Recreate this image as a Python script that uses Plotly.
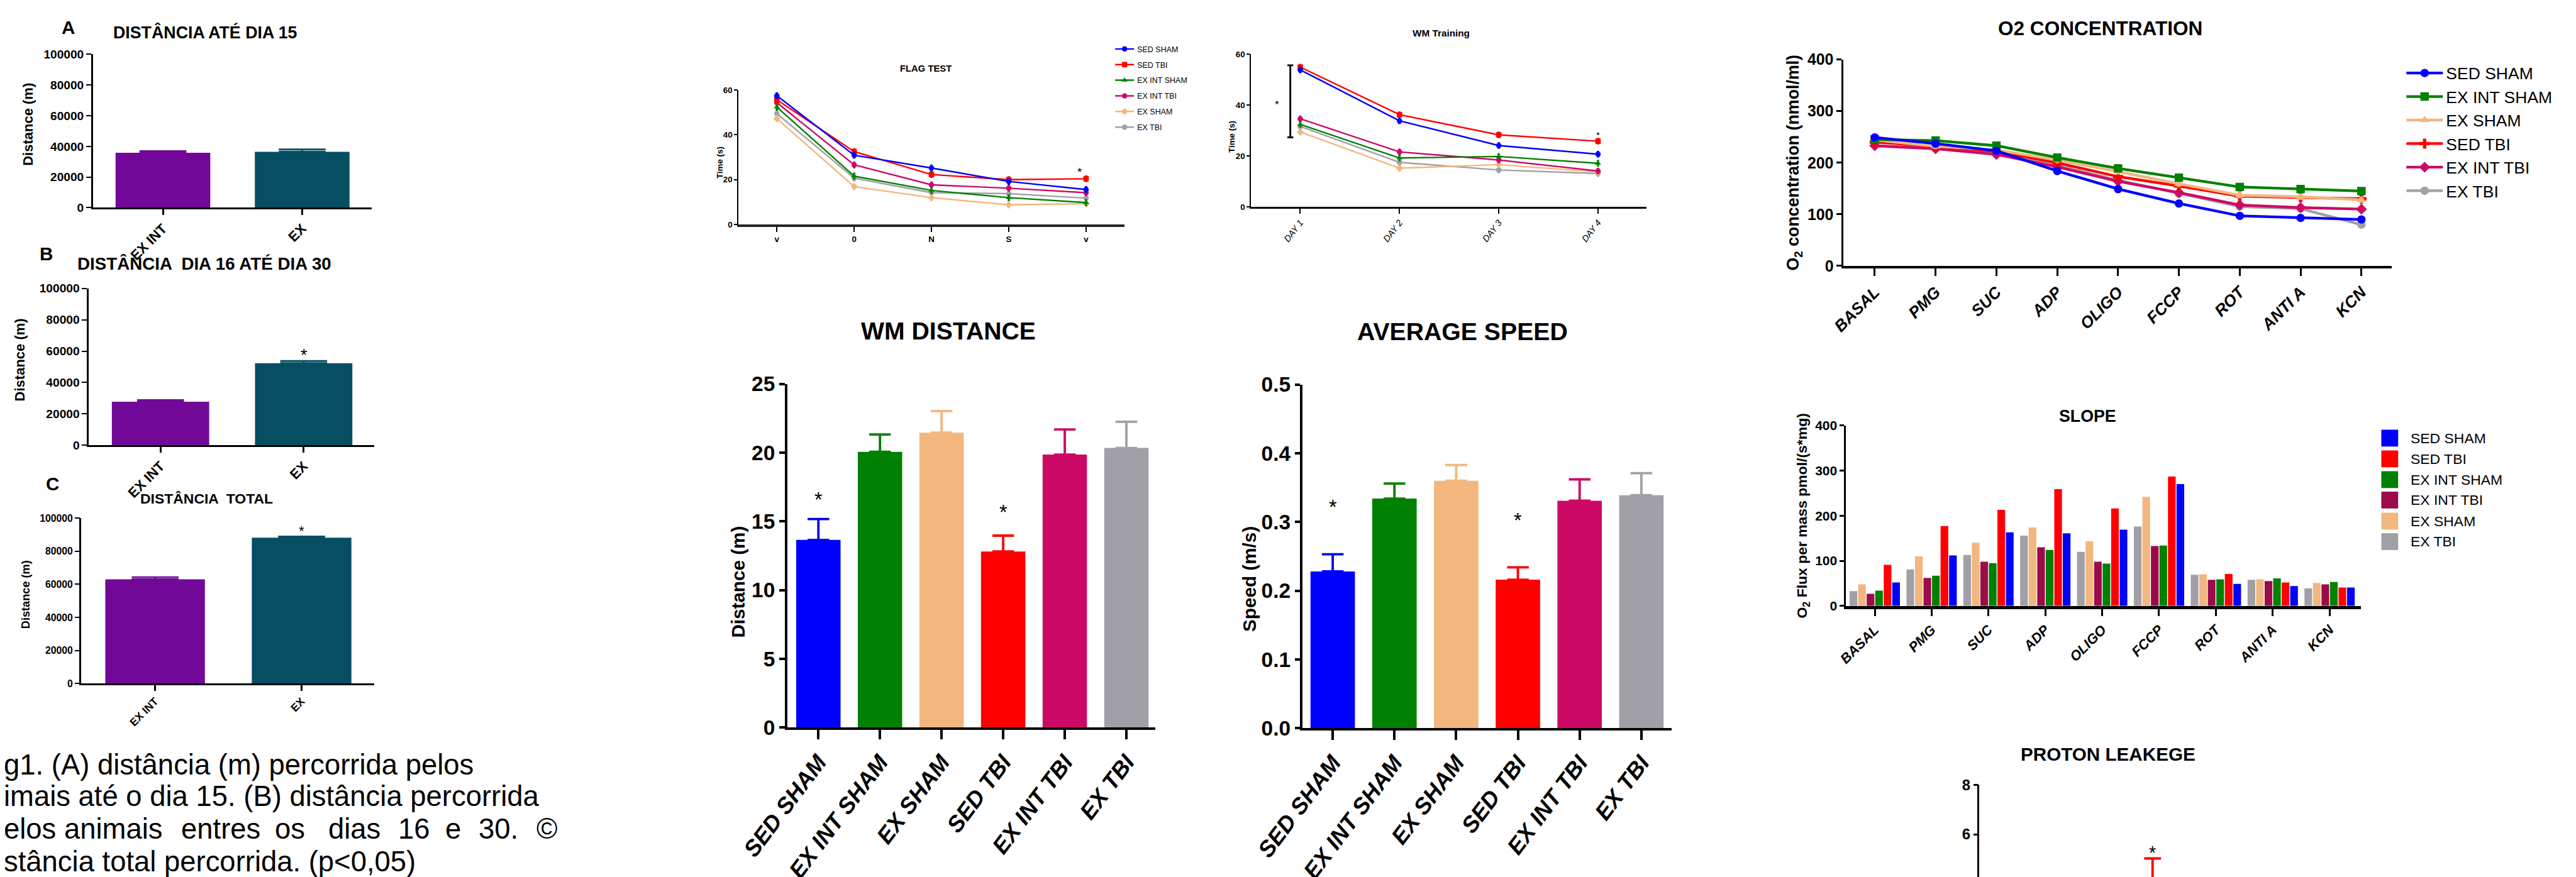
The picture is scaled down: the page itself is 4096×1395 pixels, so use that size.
import plotly.graph_objects as go

# ---------------- reference geometry helpers ----------------
W, H = 4282.0, 1458.0
S = 4096.0 / 4282.0
OW, OH = 4096.0, 1395.0
YOFF = -8.0  # small global vertical correction (reference px)

ARIAL = "Liberation Sans, Arial, Helvetica, sans-serif"

# ---------------- data ----------------
ABC_CATS = ["EX INT", "EX"]
ABC_COLORS = ["#720897", "#064F63"]
DIST_15 = [35800, 36500]
DIST_15_ERR = [1100, 1500]
DIST_16_30 = [27800, 52300]
DIST_16_30_ERR = [1000, 1400]
DIST_TOTAL = [63000, 88200]
DIST_TOTAL_ERR = [1300, 700]
STAR_B_CAT, STAR_B_Y = ["EX"], [59800]
STAR_C_CAT, STAR_C_Y = ["EX"], [94200]

FLAG_TICKS = ["v", "0", "N", "S", "v"]
FLAG_SED_SHAM = [57.4, 30.9, 25.2, 19.2, 15.6]
FLAG_SED_TBI = [55.6, 32.5, 22.3, 20.0, 20.4]
FLAG_EX_INT_SHAM = [52.3, 21.6, 15.2, 12.0, 9.8]
FLAG_EX_INT_TBI = [54.3, 26.6, 17.7, 16.2, 14.2]
FLAG_EX_SHAM = [47.2, 16.9, 12.0, 8.8, 9.3]
FLAG_EX_TBI = [49.4, 20.7, 14.2, 13.8, 11.8]
FLAG_STAR_X, FLAG_STAR_Y = [3.92], [24.6]

WMT_TICKS = ["DAY 1", "DAY 2", "DAY 3", "DAY 4"]
WMT_SED_SHAM = [53.9, 33.9, 24.2, 20.8]
WMT_SED_TBI = [55.0, 36.3, 28.4, 25.9]
WMT_EX_INT_SHAM = [32.5, 19.3, 19.9, 17.2]
WMT_EX_INT_TBI = [34.7, 21.7, 18.5, 14.2]
WMT_EX_SHAM = [29.5, 15.3, 16.7, 13.8]
WMT_EX_TBI = [31.7, 17.6, 14.6, 13.2]
WMT_BRACKET = [27.4, 55.7]
WMT_BRACKET_STAR_Y = [41.4]
WMT_STAR_X, WMT_STAR_Y = [3], [29.2]

GROUPS = ["SED SHAM", "EX INT SHAM", "EX SHAM", "SED TBI", "EX INT TBI", "EX TBI"]
GROUP_COLORS = ["#0000FF", "#008000", "#F1B77E", "#FF0000", "#CC0A66", "#A1A0A6"]
WM_DIST = [13.65, 20.06, 21.46, 12.81, 19.86, 20.34]
WM_DIST_ERR = [1.52, 1.26, 1.57, 1.15, 1.83, 1.91]
WM_DIST_STAR_CAT, WM_DIST_STAR_Y = ["SED SHAM", "SED TBI"], [16.9, 16.0]
SPEED = [0.228, 0.334, 0.360, 0.216, 0.331, 0.339]
SPEED_ERR = [0.025, 0.022, 0.023, 0.018, 0.031, 0.032]
SPEED_STAR_CAT, SPEED_STAR_Y = ["SED SHAM", "SED TBI"], [0.328, 0.309]

O2_STEPS = ["BASAL", "PMG", "SUC", "ADP", "OLIGO", "FCCP", "ROT", "ANTI A", "KCN"]
O2_SED_SHAM = [249, 237, 223, 184, 149, 121, 97, 93, 90]
O2_EX_INT_SHAM = [245, 243, 233, 210, 189, 171, 153, 149, 145]
O2_EX_SHAM = [244, 232, 225, 205, 183, 159, 137, 134, 128]
O2_SED_TBI = [240, 232, 222, 200, 173, 155, 135, 133, 130]
O2_EX_INT_TBI = [233, 227, 216, 192, 164, 142, 118, 113, 110]
O2_EX_TBI = [242, 229, 219, 195, 166, 140, 115, 111, 80]

SL_EX_TBI = [33, 81, 113, 156, 120, 176, 69, 58, 39]
SL_EX_SHAM = [48, 110, 140, 174, 143, 242, 70, 59, 51]
SL_EX_INT_TBI = [27, 62, 98, 130, 98, 133, 58, 55, 48]
SL_EX_INT_SHAM = [34, 67, 95, 124, 94, 134, 59, 61, 53]
SL_SED_TBI = [91, 177, 213, 259, 216, 287, 71, 52, 41]
SL_SED_SHAM = [52, 112, 163, 161, 169, 270, 49, 44, 41]
SLOPE_LEGEND = ["SED SHAM", "SED TBI", "EX INT SHAM", "EX INT TBI", "EX SHAM", "EX TBI"]
SLOPE_LEGEND_COLORS = ["#0000FF", "#FF0000", "#008000", "#9C0A4C", "#F1B77E", "#A1A0A6"]

PROTON_CAT = ["SED TBI"]
PROTON_VAL = [4.0]
PROTON_ERR = [1.02]
PROTON_STAR_Y = [5.42]

CAPTION_1 = "g1. (A) distância (m) percorrida pelos"
CAPTION_2 = "imais até o dia 15. (B) distância percorrida"
CAPTION_3 = ["elos", "animais", "entres", "os", "dias", "16", "e", "30.", "©"]
CAPTION_4 = "stância total percorrida. (p<0,05)"

# ---------------- builders ----------------
fig = go.Figure()
layout = {}
annotations = []
shapes = []


def py(y):
    return 1 - (y + YOFF) / H


def fnt(size, family=ARIAL, bold=True, italic=False, color="black"):
    return dict(family=family, size=size * S, color=color,
                weight="bold" if bold else "normal",
                style="italic" if italic else "normal")


def names(n):
    s = "" if n == 1 else str(n)
    return "x" + s, "y" + s, "xaxis" + s, "yaxis" + s


def add_axes(n, xd, yd, xr, yr, xkw, ykw):
    xn, yn, xk, yk = names(n)
    base = dict(showgrid=False, zeroline=False, showline=True, linecolor="black",
                ticks="outside", tickcolor="black", fixedrange=True, automargin=False)
    xa = dict(base)
    xa.update(domain=[xd[0] / W, xd[1] / W], anchor=yn, range=xr)
    xa.update(xkw)
    ya = dict(base)
    ya.update(domain=[max(0.0, py(yd[1])), min(1.0, py(yd[0]))], anchor=xn, range=yr)
    ya.update(ykw)
    layout[xk] = xa
    layout[yk] = ya


def ptext(text, x, y, size, bold=True, italic=False, angle=0, xanchor="center"):
    annotations.append(dict(text=text, x=x / W, y=py(y), xref="paper", yref="paper",
                            showarrow=False, font=fnt(size, ARIAL, bold, italic),
                            textangle=angle, xanchor=xanchor, yanchor="middle"))


def stars(n, xs, ys, size):
    xn, yn, _, _ = names(n)
    for xv, yv in zip(xs, ys):
        annotations.append(dict(text="*", x=xv, y=yv, xref=xn, yref=yn, showarrow=False,
                                font=fnt(size, ARIAL, bold=False), yshift=-0.22 * size * S))


def bars(n, cats, vals, errs, colors, width, cap, thick):
    xn, yn, _, _ = names(n)
    for c, v, e, col in zip(cats, vals, errs, colors):
        fig.add_trace(go.Bar(x=[c], y=[v], width=width, offset=-width / 2,
                             marker=dict(color=col, line=dict(width=0)),
                             error_y=dict(type="data", array=[e], arrayminus=[0], symmetric=False,
                                          color=col, thickness=thick * S, width=cap * S),
                             xaxis=xn, yaxis=yn, showlegend=False, hoverinfo="skip"))


# ---------------- panels A, B, C ----------------
abc = [
    (1, (146, 609), (90, 345), [-0.503, 1.497], DIST_15, DIST_15_ERR, 20, 23),
    (2, (139, 614), (479, 740), [-0.502, 1.494], DIST_16_30, DIST_16_30_ERR, 20, 23),
    (3, (127, 614), (861, 1136), [-0.503, 1.497], DIST_TOTAL, DIST_TOTAL_ERR, 16.5, 18),
]
for n, xd, yd, xr, vals, errs, yfs, xfs in abc:
    add_axes(n, xd, yd, xr, [0, 100000],
             dict(type="category", categoryorder="array", categoryarray=ABC_CATS,
                  linewidth=3 * S, tickwidth=3 * S, ticklen=9 * S, tickangle=-45,
                  tickfont=fnt(xfs)),
             dict(tick0=0, dtick=20000, tickformat="d", linewidth=3 * S, tickwidth=2.5 * S,
                  ticklen=8 * S, tickfont=fnt(yfs)))
    bars(n, ABC_CATS, vals, errs, ABC_COLORS, 0.68, 39, 3)

stars(2, STAR_B_CAT, STAR_B_Y, 28)
stars(3, STAR_C_CAT, STAR_C_Y, 24)

ptext("A", 105, 45, 31)
ptext("DISTÂNCIA ATÉ DIA 15", 333, 53, 28)
ptext("B", 68, 421, 31)
ptext("DISTÂNCIA  DIA 16 ATÉ DIA 30", 331, 438, 29)
ptext("C", 79, 804, 31)
ptext("DISTÂNCIA  TOTAL", 335, 828, 24)
ptext("Distance (m)", 38, 206, 23, angle=-90)
ptext("Distance (m)", 25, 598, 23, angle=-90)
ptext("Distance (m)", 34, 988, 19, angle=-90)

# caption (clipped at the left edge like the reference)
ptext(CAPTION_1, -4, 1271, 47.5, bold=False, xanchor="left")
ptext(CAPTION_2, -4, 1323, 47.5, bold=False, xanchor="left")
cap3_x = [-4, 96, 291, 446, 535, 651, 730, 785, 881]
for wtxt, wx in zip(CAPTION_3, cap3_x):
    ptext(wtxt, wx, 1378, 47.5, bold=False, xanchor="left")
ptext(CAPTION_4, -4, 1432, 47.5, bold=False, xanchor="left")

# ---------------- FLAG TEST ----------------
series_flag = [
    ("SED SHAM", FLAG_SED_SHAM, "#0000FF", "circle"),
    ("SED TBI", FLAG_SED_TBI, "#FF0000", "square"),
    ("EX INT SHAM", FLAG_EX_INT_SHAM, "#008000", "triangle-up"),
    ("EX INT TBI", FLAG_EX_INT_TBI, "#CC0A66", "circle"),
    ("EX SHAM", FLAG_EX_SHAM, "#F1B77E", "diamond"),
    ("EX TBI", FLAG_EX_TBI, "#A1A0A6", "circle"),
]
add_axes(4, (1219, 1861), (149, 373), [-0.498, 4.498], [0, 60],
         dict(tickvals=list(range(len(FLAG_TICKS))), ticktext=FLAG_TICKS, linewidth=4 * S,
              linecolor="#222222", tickwidth=2 * S, ticklen=8 * S, tickfont=fnt(14)),
         dict(tick0=0, dtick=20, linewidth=2 * S, tickwidth=2 * S, ticklen=5 * S,
              tickfont=fnt(14)))
flag_names = [s[0] for s in series_flag]
for name, vals, col, sym in reversed(series_flag):
    fig.add_trace(go.Scatter(x=list(range(len(vals))), y=vals, mode="lines+markers", name=name,
                             line=dict(color=col, width=2.5 * S),
                             marker=dict(color=col, symbol=sym, size=9 * S),
                             error_y=dict(type="constant", value=1.2, color=col, thickness=2.5 * S, width=2 * S),
                             xaxis="x4", yaxis="y4", legend="legend", hoverinfo="skip",
                             legendgroup="flag_" + name, legendrank=flag_names.index(name)))
stars(4, FLAG_STAR_X, FLAG_STAR_Y, 20)
ptext("FLAG TEST", 1531, 114, 15.5)
ptext("Time (s)", 1188, 270, 14, angle=-90)

# ---------------- WM Training ----------------
series_wmt = [
    ("SED SHAM", WMT_SED_SHAM, "#0000FF", "circle"),
    ("SED TBI", WMT_SED_TBI, "#FF0000", "square"),
    ("EX INT SHAM", WMT_EX_INT_SHAM, "#008000", "triangle-up"),
    ("EX INT TBI", WMT_EX_INT_TBI, "#CC0A66", "circle"),
    ("EX SHAM", WMT_EX_SHAM, "#F1B77E", "diamond"),
    ("EX TBI", WMT_EX_TBI, "#A1A0A6", "circle"),
]
add_axes(5, (2071, 2728), (90, 344), [-0.497, 3.485], [0, 60],
         dict(tickvals=list(range(len(WMT_TICKS))), ticktext=WMT_TICKS, linewidth=3 * S,
              tickwidth=2 * S, ticklen=8 * S, tickangle=-52, tickfont=fnt(15, bold=False, italic=True)),
         dict(tick0=0, dtick=20, linewidth=2 * S, tickwidth=2 * S, ticklen=5 * S,
              tickfont=fnt(14)))
for name, vals, col, sym in reversed(series_wmt):
    fig.add_trace(go.Scatter(x=list(range(len(vals))), y=vals, mode="lines+markers", name=name,
                             line=dict(color=col, width=2.5 * S),
                             marker=dict(color=col, symbol=sym, size=9 * S),
                             error_y=dict(type="constant", value=1.0, color=col, thickness=2.5 * S, width=2 * S),
                             xaxis="x5", yaxis="y5", showlegend=False, hoverinfo="skip"))
bx = -0.10
shapes.append(dict(type="line", xref="x5", yref="y5", x0=bx, x1=bx, y0=WMT_BRACKET[0], y1=WMT_BRACKET[1],
                   line=dict(color="black", width=3 * S)))
for yv in WMT_BRACKET:
    shapes.append(dict(type="line", xref="x5", yref="y5", x0=bx - 0.03, x1=bx + 0.03, y0=yv, y1=yv,
                       line=dict(color="black", width=3 * S)))
stars(5, [-0.236], WMT_BRACKET_STAR_Y, 18)
stars(5, WMT_STAR_X, WMT_STAR_Y, 16)
ptext("WM Training", 2387, 54, 16)
ptext("Time (s)", 2039, 227, 14, angle=-90)

# ---------------- WM DISTANCE & AVERAGE SPEED ----------------
for n, xd, yd, xr, yr, dt, fmt, vals, errs, scat, sy in [
    (6, (1300, 1912), (638, 1209), [-0.508, 5.469], [0, 25], 5, "d", WM_DIST, WM_DIST_ERR, WM_DIST_STAR_CAT, WM_DIST_STAR_Y),
    (7, (2157, 2770), (639, 1210), [-0.487, 5.487], [0, 0.5], 0.1, ".1f", SPEED, SPEED_ERR, SPEED_STAR_CAT, SPEED_STAR_Y),
]:
    add_axes(n, xd, yd, xr, yr,
             dict(type="category", categoryorder="array", categoryarray=GROUPS,
                  linewidth=4 * S, tickwidth=4 * S, ticklen=16 * S, tickangle=-53,
                  tickfont=fnt(38, ARIAL, italic=True)),
             dict(tick0=0, dtick=dt, tickformat=fmt, linewidth=4 * S, tickwidth=4 * S,
                  ticklen=9 * S, tickfont=fnt(35)))
    bars(n, GROUPS, vals, errs, GROUP_COLORS, 0.72, 18, 4)
    stars(n, scat, sy, 34)

ptext("WM DISTANCE", 1568, 550, 41)
ptext("AVERAGE SPEED", 2423, 551, 41)
ptext("Distance (m)", 1219, 967, 31, angle=-90)
ptext("Speed (m/s)", 2069, 962, 31, angle=-90)

# ---------------- O2 CONCENTRATION ----------------
series_o2 = [
    ("SED SHAM", O2_SED_SHAM, "#0000FF", "circle"),
    ("EX INT SHAM", O2_EX_INT_SHAM, "#008000", "square"),
    ("EX SHAM", O2_EX_SHAM, "#F1B77E", "triangle-up"),
    ("SED TBI", O2_SED_TBI, "#FF0000", "cross"),
    ("EX INT TBI", O2_EX_INT_TBI, "#CC0A66", "diamond"),
    ("EX TBI", O2_EX_TBI, "#A1A0A6", "circle"),
]
add_axes(8, (3056, 3967), (98.6, 441.7), [-0.514, 8.495], [0, 400],
         dict(type="category", categoryorder="array", categoryarray=O2_STEPS,
              linewidth=4 * S, tickwidth=3 * S, ticklen=13 * S, tickangle=-45,
              tickfont=fnt(27, ARIAL, italic=True)),
         dict(tick0=0, dtick=100, linewidth=3.5 * S, tickwidth=3 * S, ticklen=8 * S,
              tickfont=fnt(26)))
o2_names = [s[0] for s in series_o2]
for name, vals, col, sym in reversed(series_o2):
    fig.add_trace(go.Scatter(x=O2_STEPS, y=vals, mode="lines+markers", name=name,
                             line=dict(color=col, width=4.5 * S),
                             marker=dict(color=col, symbol=sym, size=14 * S),
                             error_y=dict(type="constant", value=4, color=col, thickness=3 * S, width=3 * S),
                             xaxis="x8", yaxis="y8", legend="legend2", hoverinfo="skip",
                             legendrank=o2_names.index(name)))
ptext("O2 CONCENTRATION", 3483, 47, 33)
ptext("O<sub>2</sub> concentration (nmol/ml)", 2974, 270, 28, angle=-90)

# ---------------- SLOPE ----------------
series_slope = [
    (SL_EX_TBI, "#A1A0A6"), (SL_EX_SHAM, "#F1B77E"), (SL_EX_INT_TBI, "#9C0A4C"),
    (SL_EX_INT_SHAM, "#008000"), (SL_SED_TBI, "#FF0000"), (SL_SED_SHAM, "#0000FF"),
]
add_axes(9, (3060, 3916), (707, 1007), [-0.508, 8.55], [0, 400],
         dict(type="category", categoryorder="array", categoryarray=O2_STEPS,
              linewidth=5 * S, tickwidth=3 * S, ticklen=12 * S, tickangle=-45,
              tickfont=fnt(23, ARIAL, italic=True)),
         dict(tick0=0, dtick=100, linewidth=3 * S, tickwidth=3 * S, ticklen=7 * S,
              tickfont=fnt(22)))
slot, bw = 0.15, 0.135
for i, (vals, col) in enumerate(series_slope):
    fig.add_trace(go.Bar(x=O2_STEPS, y=vals, width=bw, offset=-0.45 + i * slot + (slot - bw) / 2,
                         marker=dict(color=col, line=dict(width=0)),
                         xaxis="x9", yaxis="y9", showlegend=False, hoverinfo="skip"))
ptext("SLOPE", 3462, 692, 28)
ptext("O<sub>2</sub> Flux per mass pmol/(s*mg)", 2988, 857, 24, angle=-90)
leg_y = [728, 762.5, 797, 831, 866, 900]
for name, col, yc in zip(SLOPE_LEGEND, SLOPE_LEGEND_COLORS, leg_y):
    shapes.append(dict(type="rect", xref="paper", yref="paper", x0=3950 / W, x1=3978 / W,
                       y0=py(yc + 14), y1=py(yc - 14), fillcolor=col, line=dict(width=0)))
    ptext(name, 3997, yc, 24, bold=False, xanchor="left")

# ---------------- PROTON LEAKEGE ----------------
p_top = 1304.5
p_unit = 41.05  # reference px per unit
p_bottom_val = 8 - (H - (p_top + YOFF)) / p_unit
add_axes(10, (3282, 3900), (p_top, H - YOFF), [-2.85, 3.27], [p_bottom_val, 8],
         dict(type="category", categoryorder="array", categoryarray=PROTON_CAT,
              showline=False, ticks="", showticklabels=False),
         dict(tickvals=[6, 8], linewidth=3 * S, tickwidth=3 * S, ticklen=7 * S,
              tickfont=fnt(25)))
bars(10, PROTON_CAT, PROTON_VAL, PROTON_ERR, ["#FF0000"], 0.7, 14, 4)
stars(10, PROTON_CAT, PROTON_STAR_Y, 30)
ptext("PROTON LEAKEGE", 3496, 1253, 31)

# ---------------- legends ----------------
f1 = 12.5
h1 = max(1.3 * f1, 16) + 3
gap1 = 26 * S - h1
f2 = 26.5
h2 = 1.3 * f2 + 3
layout["legend"] = dict(x=(1861 * S - 20) / OW, y=1 - ((81 + YOFF) * S - 5 - h1 / 2) / OH,
                        xanchor="left", yanchor="top", font=dict(family=ARIAL, size=f1, color="black"),
                        bgcolor="rgba(0,0,0,0)", borderwidth=0, itemwidth=30, tracegroupgap=gap1,
                        traceorder="grouped")
layout["legend2"] = dict(x=(4022 * S - 34) / OW, y=1 - ((121 + YOFF) * S - 5 - h2 / 2) / OH,
                         xanchor="left", yanchor="top", font=dict(family=ARIAL, size=f2, color="black"),
                         bgcolor="rgba(0,0,0,0)", borderwidth=0, itemwidth=58, tracegroupgap=0,
                         traceorder="normal")

layout.update(width=4096, height=1395, margin=dict(l=0, r=0, t=0, b=0, pad=0, autoexpand=False),
              paper_bgcolor="white", plot_bgcolor="white", showlegend=True,
              hovermode=False, annotations=annotations, shapes=shapes,
              font=dict(family=ARIAL, color="black"))
fig.update_layout(**layout)
fig.write_html("out.html")
